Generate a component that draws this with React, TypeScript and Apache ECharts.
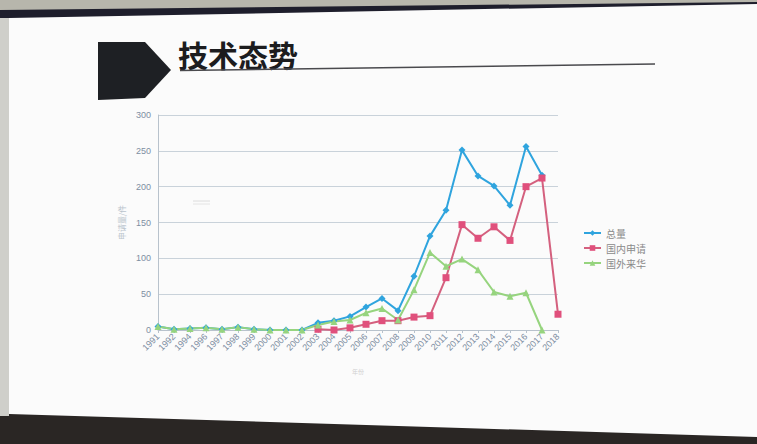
import React, { useEffect, useRef } from "react";
import * as echarts from "echarts";

const categories = [
  "1991", "1992", "1994", "1996", "1997", "1998", "1999", "2000", "2001", "2002",
  "2003", "2004", "2005", "2006", "2007", "2008", "2009", "2010", "2011", "2012",
  "2013", "2014", "2015", "2016", "2017", "2018",
];
const totalValues = [
  5, 1, 2, 3, 1, 4, 1, 0, 0, 0,
  10, 13, 19, 32, 44, 27, 75, 131, 167, 251,
  215, 201, 174, 256, 216, null,
];
const domesticValues = [
  null, null, null, null, null, null, null, null, null, null,
  1, 0, 3, 8, 13, 13, 18, 20, 73, 147,
  128, 144, 125, 200, 212, 22,
];
const foreignValues = [
  5, 1, 2, 3, 1, 4, 1, 0, 0, 0,
  7, 12, 14, 24, 30, 14, 56, 108, 89, 99,
  84, 53, 47, 52, 0, null,
];
const seriesNames = ["总量", "国内申请", "国外来华"];
const yTicks = { min: 0, max: 300, interval: 50 };
const titleText = "技术态势";
const yAxisName = "申请量/件";
const xAxisName = "年份";

export default function App() {
  const ref = useRef<HTMLDivElement>(null);
  useEffect(() => {
    if (!ref.current) return;
    const chart = echarts.init(ref.current, undefined, { renderer: "svg" });
    const axisLabelColor = "#7d8ea2";
    chart.setOption({
      animation: false,
      backgroundColor: "transparent",
      textStyle: { fontFamily: "Liberation Sans, Noto Sans CJK SC, sans-serif" },
      graphic: [
        {
          type: "polygon",
          shape: { points: [[98, 42], [145, 42], [171, 70], [145, 98], [98, 100]] },
          style: { fill: "#1e2024" },
        },
        {
          type: "text",
          x: 178,
          y: 39,
          style: {
            text: titleText,
            font: 'bold 30px "Noto Sans CJK SC"',
            fill: "#1c1c1e",
          },
        },
        {
          type: "line",
          shape: { x1: 180, y1: 70.5, x2: 655, y2: 64 },
          style: { stroke: "#4a4a4e", lineWidth: 1.6 },
        },
        {
          type: "line",
          shape: { x1: 193, y1: 201, x2: 210, y2: 201 },
          style: { stroke: "#dcdcdc", lineWidth: 1 },
        },
        {
          type: "line",
          shape: { x1: 193, y1: 204, x2: 210, y2: 204 },
          style: { stroke: "#e4e4e4", lineWidth: 1 },
        },
      ],
      grid: { left: 158, top: 115, width: 400, height: 215, containLabel: false },
      legend: {
        orient: "vertical",
        left: 578,
        top: 223,
        itemWidth: 17,
        itemHeight: 7,
        itemGap: 5,
        textStyle: { fontSize: 10, color: "#8a8a8a", fontFamily: "Noto Sans CJK SC" },
        data: seriesNames,
      },
      xAxis: {
        type: "category",
        data: categories,
        boundaryGap: false,
        name: xAxisName,
        nameLocation: "middle",
        nameGap: 38,
        nameTextStyle: { fontSize: 6, color: "#d0d0d0", fontFamily: "Noto Sans CJK SC" },
        axisLine: { lineStyle: { color: "#b8c2cc" } },
        axisTick: { show: true, lineStyle: { color: "#b8c2cc" }, length: 3 },
        axisLabel: { rotate: 45, fontSize: 9, color: axisLabelColor, margin: 5, interval: 0 },
      },
      yAxis: {
        type: "value",
        min: yTicks.min,
        max: yTicks.max,
        interval: yTicks.interval,
        name: yAxisName,
        nameLocation: "middle",
        nameGap: 27,
        nameRotate: 90,
        nameTextStyle: { fontSize: 8, color: "#b9c3cc", fontFamily: "Noto Sans CJK SC" },
        axisLine: { show: true, lineStyle: { color: "#b8c2cc" } },
        axisTick: { show: false },
        axisLabel: { fontSize: 9, color: axisLabelColor, margin: 7 },
        splitLine: { lineStyle: { color: "#c9d2da", width: 1 } },
      },
      series: [
        {
          name: seriesNames[0],
          type: "line",
          data: totalValues,
          symbol: "diamond",
          symbolSize: 7,
          color: "#2fa4de",
          lineStyle: { width: 2, color: "#2fa4de" },
          itemStyle: { color: "#2fa4de" },
          connectNulls: false,
        },
        {
          name: seriesNames[1],
          type: "line",
          data: domesticValues,
          symbol: "rect",
          symbolSize: 7,
          color: "#e0507c",
          lineStyle: { width: 2, color: "#d4607e" },
          itemStyle: { color: "#e0507c" },
        },
        {
          name: seriesNames[2],
          type: "line",
          data: foreignValues,
          symbol: "triangle",
          symbolSize: 7,
          color: "#96d47e",
          lineStyle: { width: 2, color: "#96d47e" },
          itemStyle: { color: "#96d47e" },
        },
      ],
    });
    return () => chart.dispose();
  }, []);

  return (
    <div style={{ position: "absolute", left: 0, top: 0, width: 757, height: 444, overflow: "hidden" }}>
      <svg width={757} height={444} style={{ position: "absolute", left: 0, top: 0, display: "block" }}>
        <rect x={0} y={0} width={757} height={444} fill="#2a2624" />
        <polygon points="0,0 757,0 757,16 0,30" fill="#1e1e2c" />
        <polygon points="0,0 757,0 757,2 0,10" fill="#b7b6ac" />
        <polygon points="0,18 9,18 9,416 0,416" fill="#cfcfca" />
        <polygon points="9,18 757,4 757,437 9,414" fill="#fbfbfb" />
      </svg>
      <div ref={ref} style={{ position: "absolute", left: 0, top: 0, width: 757, height: 444 }} />
    </div>
  );
}
